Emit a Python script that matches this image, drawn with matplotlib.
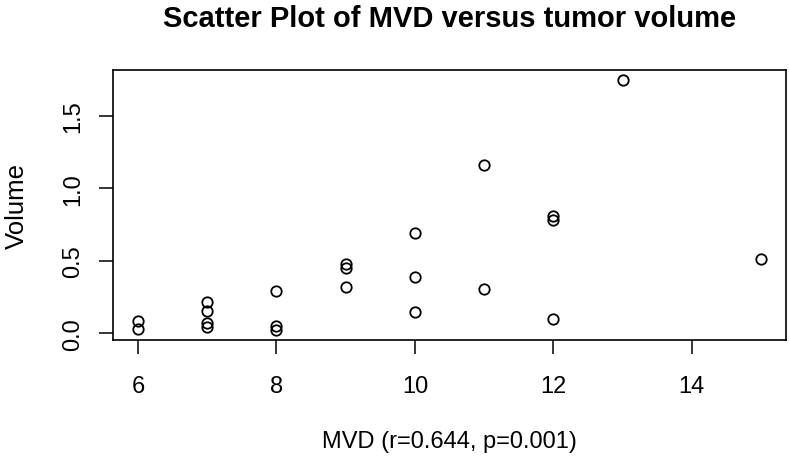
import matplotlib
matplotlib.use('Agg')
import matplotlib.pyplot as plt
import numpy as np

plt.rcParams['font.family'] = ['Liberation Sans', 'DejaVu Sans']

# MVD values and tumor volume
mvd = [6, 6,
       7, 7, 7, 7,
       8, 8, 8,
       9, 9, 9,
       10, 10, 10,
       11, 11,
       12, 12, 12,
       13,
       15]
volume = [0.088, 0.028,
          0.215, 0.157, 0.069, 0.046,
          0.289, 0.053, 0.023,
          0.481, 0.451, 0.317,
          0.692, 0.391, 0.148,
          1.162, 0.308,
          0.810, 0.780, 0.097,
          1.745,
          0.509]

x_ticks = [6, 8, 10, 12, 14]
y_ticks = [0.0, 0.5, 1.0, 1.5]
y_ticklabels = ['0.0', '0.5', '1.0', '1.5']

fig = plt.figure(figsize=(7.89, 4.6), dpi=100)
ax = fig.add_axes([113/789, 1 - 341/460, (786 - 113)/789, (341 - 71)/460])

ax.plot(mvd, volume, linestyle='none', marker='o', markersize=7.5,
        markerfacecolor='none', markeredgecolor='black', markeredgewidth=1.3)

# R style 4% padding on both axes
xr = max(mvd) - min(mvd)
yr = max(volume) - min(volume)
ax.set_xlim(min(mvd) - 0.04*xr, max(mvd) + 0.04*xr)
ax.set_ylim(min(volume) - 0.04*yr, max(volume) + 0.04*yr)

ax.set_xticks(x_ticks)
ax.set_yticks(y_ticks)
ax.set_yticklabels(y_ticklabels, rotation=90, va='center')
ax.tick_params(axis='both', length=10, width=1.1, labelsize=17, color='black')
ax.tick_params(axis='x', pad=15)
ax.tick_params(axis='y', pad=11)
for s in ax.spines.values():
    s.set_linewidth(1.2)

ax.set_title('Scatter Plot of MVD versus tumor volume', fontsize=21,
             fontweight='bold', pad=32)
ax.set_xlabel('MVD (r=0.644, p=0.001)', fontsize=17, labelpad=24)
ax.set_ylabel('Volume', fontsize=18.5, labelpad=24)

fig.savefig('out.png', dpi=100)
